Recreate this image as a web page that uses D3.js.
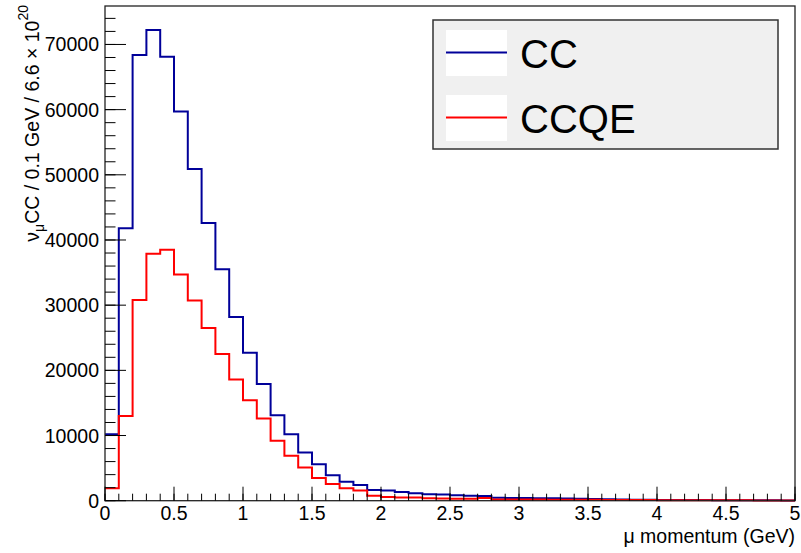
<!DOCTYPE html>
<html>
<head>
<meta charset="utf-8">
<script src="https://cdn.jsdelivr.net/npm/d3@7"></script>
<style>
  html, body { margin: 0; padding: 0; background: #fff; }
  svg { display: block; font-family: "Liberation Sans", Arial, Helvetica, sans-serif; }
</style>
</head>
<body>
<svg id="chart" width="801" height="553"></svg>
<script>
// ---- data ----
const binEdgesStart = 0, binWidth = 0.1, nBins = 50;
const ccValues = [
  10200, 41800, 68400, 72200, 68100, 59700, 50900, 42600, 35500, 28200,
  22700, 17900, 13100, 10200, 7400, 5600, 3900, 2900, 2400, 1650,
  1550, 1350, 1150, 1000, 950, 850, 750, 740, 450, 420,
  400, 380, 360, 340, 300, 280, 240, 200, 150, 140,
  120, 110, 100, 90, 80, 70, 60, 55, 50, 45
];
const ccqeValues = [
  1900, 13000, 30800, 37900, 38500, 34700, 30700, 26500, 22500, 18600,
  15400, 12600, 9200, 6900, 5100, 3500, 2550, 1900, 1550, 750,
  550, 500, 480, 380, 320, 300, 290, 400, 200, 190,
  180, 170, 160, 150, 140, 130, 120, 110, 100, 90,
  80, 75, 70, 65, 60, 55, 50, 45, 40, 30
];
const xTickValues = [0, 0.5, 1, 1.5, 2, 2.5, 3, 3.5, 4, 4.5, 5];
const yTickValues = [0, 10000, 20000, 30000, 40000, 50000, 60000, 70000];
const seriesNames = ["CC", "CCQE"];
const seriesColors = ["#000099", "#ff0000"];
const yMax = 75900;

// ---- layout ----
const svg = d3.select("#chart");
const L = 105, R = 795, T = 6, B = 500.7;
const x = d3.scaleLinear().domain([0, 5]).range([L, R]);
const y = d3.scaleLinear().domain([0, yMax]).range([B, T]);

// histograms
const series = [ccValues, ccqeValues];
const line = d3.line().x(d => x(d[0])).y(d => y(d[1])).curve(d3.curveStepAfter);
series.forEach((vals, i) => {
  const pts = vals.map((v, k) => [binEdgesStart + k * binWidth, v]);
  pts.push([binEdgesStart + nBins * binWidth, vals[vals.length - 1]]);
  svg.append("path")
    .attr("d", line(pts))
    .attr("fill", "none")
    .attr("stroke", seriesColors[i])
    .attr("stroke-width", 2);
});

// frame
svg.append("rect")
  .attr("x", L).attr("y", T).attr("width", R - L).attr("height", B - T)
  .attr("fill", "none").attr("stroke", "#222").attr("stroke-width", 1.3);

// x axis ticks
const xMinor = d3.range(0, 50.5, 1).map(i => i * 0.1);
const gx = svg.append("g");
gx.selectAll("line.minor").data(xMinor).enter().append("line")
  .attr("x1", d => x(d)).attr("x2", d => x(d))
  .attr("y1", B).attr("y2", B - 7)
  .attr("stroke", "#000").attr("stroke-width", 1);
gx.selectAll("line.major").data(xTickValues).enter().append("line")
  .attr("x1", d => x(d)).attr("x2", d => x(d))
  .attr("y1", B).attr("y2", B - 14)
  .attr("stroke", "#000").attr("stroke-width", 1);
gx.selectAll("text").data(xTickValues).enter().append("text")
  .attr("x", d => x(d)).attr("y", 520)
  .attr("text-anchor", "middle")
  .attr("font-size", 19.5)
  .text(d => d3.format("")(d));

// y axis ticks
const yMinor = d3.range(0, yMax, 2000);
const gy = svg.append("g");
gy.selectAll("line.minor").data(yMinor).enter().append("line")
  .attr("x1", L).attr("x2", L + 10.5)
  .attr("y1", d => y(d)).attr("y2", d => y(d))
  .attr("stroke", "#000").attr("stroke-width", 1);
gy.selectAll("line.major").data(yTickValues).enter().append("line")
  .attr("x1", L).attr("x2", L + 21)
  .attr("y1", d => y(d)).attr("y2", d => y(d))
  .attr("stroke", "#000").attr("stroke-width", 1);
gy.selectAll("text").data(yTickValues).enter().append("text")
  .attr("x", 99).attr("y", d => y(d) + 7)
  .attr("text-anchor", "end")
  .attr("font-size", 19.5)
  .text(d => d);

// axis titles
svg.append("text")
  .attr("x", 795).attr("y", 543)
  .attr("text-anchor", "end")
  .attr("font-size", 19.5)
  .text("μ momentum (GeV)");

const yt = svg.append("text")
  .attr("transform", "translate(39,5) rotate(-90)")
  .attr("text-anchor", "end")
  .attr("font-size", 19.5);
yt.append("tspan").text("ν");
yt.append("tspan").attr("dy", 5).attr("font-size", 14).text("μ");
yt.append("tspan").attr("dy", -5).text("CC / 0.1 GeV / 6.6 × 10");
yt.append("tspan").attr("dy", -11).attr("font-size", 14).text("20");

// legend
svg.append("rect")
  .attr("x", 433).attr("y", 20).attr("width", 345).attr("height", 129)
  .attr("fill", "#f0f0f0").attr("stroke", "#333").attr("stroke-width", 1.5);
seriesNames.forEach((name, i) => {
  const cy = 52.5 + i * 65;
  svg.append("rect")
    .attr("x", 446).attr("y", cy - 22.5).attr("width", 61).attr("height", 46)
    .attr("fill", "#fff");
  svg.append("line")
    .attr("x1", 446).attr("x2", 507).attr("y1", cy).attr("y2", cy)
    .attr("stroke", seriesColors[i]).attr("stroke-width", 2);
  svg.append("text")
    .attr("x", 520).attr("y", cy + 15)
    .attr("font-size", 40)
    .text(name);
});
</script>
</body>
</html>
